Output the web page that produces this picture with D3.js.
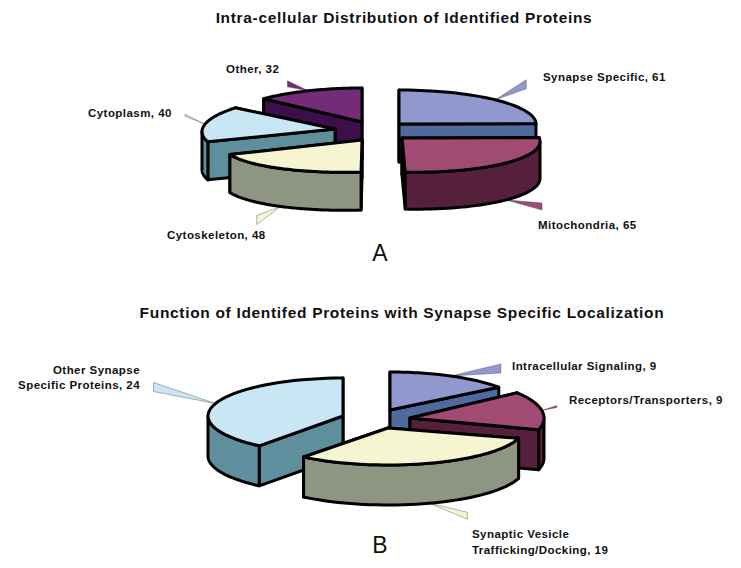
<!DOCTYPE html>
<html lang="en">
<head>
  <title>Identified Proteins</title>
  <meta charset="UTF-8">
  <style>
    html, body { margin: 0; padding: 0; background: #fff; }
    svg { display: block; }
    text { font-family: "Liberation Sans", Arial, sans-serif; fill: #111; }
    .title { font-size: 15.5px; font-weight: bold; letter-spacing: 0.68px; }
    .label { font-size: 11.5px; font-weight: bold; letter-spacing: 0.45px; }
    .letter { font-size: 23px; }
  </style>
</head>
<body>
  <svg id="chart" width="741" height="568"></svg>

  <script src="https://cdn.jsdelivr.net/npm/d3@7"></script>
  <script>
    // Values
    const categoriesA = ["Synapse Specific", "Mitochondria", "Cytoskeleton", "Cytoplasm", "Other"];
    const valuesA = [61, 65, 48, 40, 32];
    const categoriesB = ["Intracellular Signaling", "Receptors/Transporters", "Synaptic Vesicle Trafficking/Docking", "Other Synapse Specific Proteins"];
    const valuesB = [9, 9, 19, 24];

    const topColors = ["#9198cd", "#a04a74", "#f5f5d2", "#c8e6f3", "#742b78"];
    const sideColors = ["#4f6a9c", "#56203c", "#8e9580", "#5f8e9c", "#3c0f4b"];

    // Layout per slice: apex, radii, depth, label place, leader wedge end
    const layoutA = [
      { cx: 399, cy: 124, rx: 137, ry: 34, d: 38, wedge: [31, -20, -11], lab: [[543, 81]] },
      { cx: 402, cy: 138, rx: 138, ry: 34, d: 37, rot: -0.1, tilt: -0.025, wedge: [36, 3, 10], lab: [[538, 229]] },
      { cx: 362, cy: 140, rx: 140, ry: 32, d: 38, tilt: 0.03, rot: -0.07, wedge: [-24, 9, 18], lab: [[167, 239]] },
      { cx: 335, cy: 129, rx: 133, ry: 35, d: 38, tilt: 0.02, rot: -0.03, wedge: [-20, -10, -8], lab: [[88, 117]] },
      { cx: 362, cy: 122, rx: 135, ry: 34, d: 38, wedge: [-21, -10, -4], lab: [[226, 73]] }
    ];
    const orderA = [4, 0, 3, 1, 2];

    const layoutB = [
      { cx: 390, cy: 410, rx: 136, ry: 38, d: 40, wedge: [50, -12, -3], lab: [[512, 370]] },
      { cx: 410, cy: 418, rx: 134, ry: 42, d: 40, wedge: [15, -5, -3], noDrop: true, lab: [[569, 404]] },
      { cx: 388, cy: 428, rx: 136, ry: 37, d: 40, wedge: [38, 9, 16], lab: [[472, 538], [472, 554]], lines: ["Synaptic Vesicle", "Trafficking/Docking, 19"] },
      { cx: 343, cy: 416, rx: 135, ry: 38, d: 40, wedge: [-62, -21, -12], anchor: "end", lab: [[140, 374], [140, 389]], lines: ["Other Synapse", "Specific Proteins, 24"] }
    ];
    const orderB = [3, 0, 1, 2];

    const svg = d3.select("#chart");
    const topColor = d3.scaleOrdinal(d3.range(5), topColors);
    const sideColor = d3.scaleOrdinal(d3.range(5), sideColors);
    const pie = d3.pie().sort(null);
    const line = d3.line();

    function rim(s, a) {
      const a2 = a + (s.rot || 0);
      return [s.cx + s.rx * Math.sin(a2), s.cy - s.ry * Math.cos(a2) - (s.tilt || 0) * s.rx * Math.sin(a2)];
    }
    function arcPts(s, a0, a1) {
      return d3.range(0, 41).map(i => rim(s, a0 + (a1 - a0) * i / 40));
    }
    function drop(pts, d) {
      return pts.map(p => [p[0], p[1] + d]).reverse();
    }

    function drawPie(categories, values, layout, order) {
      const arcs = pie(values);
      order.forEach(i => {
        const s = layout[i], a = arcs[i];
        const rot = s.rot || 0;
        const g = svg.append("g");
        const face = pts => g.append("path")
          .attr("d", line(pts) + "Z")
          .attr("fill", sideColor(i))
          .attr("stroke", "#000").attr("stroke-width", 3).attr("stroke-linejoin", "round");

        // leader wedge goes under the slice
        const mid = (a.startAngle + a.endAngle) / 2;
        const tip = rim(s, mid);
        const front = Math.cos(mid) < 0 && !s.noDrop;
        if (front) tip[1] += s.d;
        const wx = tip[0] + s.wedge[0];
        svg.insert("path", "g")
          .attr("d", line([tip, [wx, tip[1] + s.wedge[1]], [wx, tip[1] + s.wedge[2]]]) + "Z")
          .attr("fill", topColor(i)).attr("stroke", "#444").attr("stroke-width", 0.4);

        // cut faces back to front, then the outer wall, then the top
        const apex = [s.cx, s.cy];
        [a.startAngle, a.endAngle]
          .sort((p, q) => Math.cos(q + rot) - Math.cos(p + rot))
          .forEach(t => {
            const p = rim(s, t);
            face([apex, p, [p[0], p[1] + s.d], [apex[0], apex[1] + s.d]]);
          });
        const w0 = Math.max(a.startAngle, Math.PI / 2 - rot);
        const w1 = Math.min(a.endAngle, 3 * Math.PI / 2 - rot);
        if (w1 > w0) {
          const pts = arcPts(s, w0, w1);
          face(pts.concat(drop(pts, s.d)));
        }
        g.append("path")
          .attr("d", line([apex].concat(arcPts(s, a.startAngle, a.endAngle))) + "Z")
          .attr("fill", topColor(i))
          .attr("stroke", "#000").attr("stroke-width", 3).attr("stroke-linejoin", "round");
      });

      // slice labels
      layout.forEach((s, i) => {
        const lines = s.lines || [categories[i] + ", " + values[i]];
        lines.forEach((t, j) => {
          svg.append("text").attr("class", "label")
            .attr("x", s.lab[j][0]).attr("y", s.lab[j][1])
            .attr("text-anchor", s.anchor || "start").text(t);
        });
      });
    }

    drawPie(categoriesA, valuesA, layoutA, orderA);
    drawPie(categoriesB, valuesB, layoutB, orderB);

    svg.append("text").attr("class", "title").attr("x", 404).attr("y", 23).attr("text-anchor", "middle")
      .text("Intra-cellular Distribution of Identified Proteins");
    svg.append("text").attr("class", "title").attr("x", 402).attr("y", 318).attr("text-anchor", "middle")
      .text("Function of Identifed Proteins with Synapse Specific Localization");
    svg.append("text").attr("class", "letter").attr("x", 380).attr("y", 261).attr("text-anchor", "middle").text("A");
    svg.append("text").attr("class", "letter").attr("x", 380).attr("y", 553).attr("text-anchor", "middle").text("B");
  </script>
</body>
</html>
